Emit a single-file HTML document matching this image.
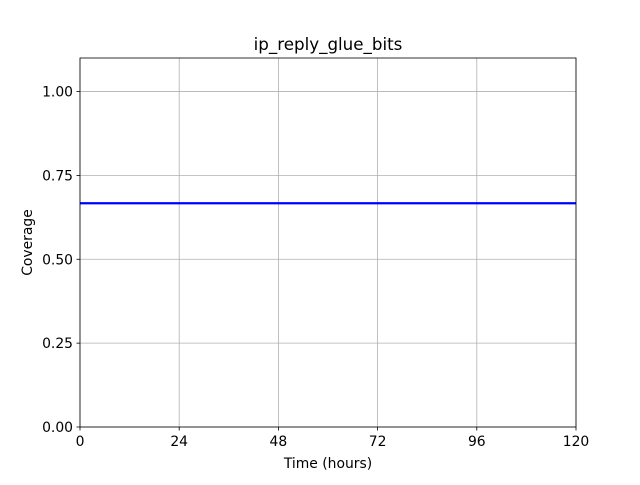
<!DOCTYPE html>
<html><head><meta charset="utf-8"><style>
body{margin:0;background:#fff;width:640px;height:480px;overflow:hidden}
text{font-family:"DejaVu Sans","Liberation Sans",sans-serif;fill:#000}
</style></head><body>
<svg id="chart" width="640" height="480" xmlns="http://www.w3.org/2000/svg"></svg>
<script>
const xTicks = [0, 24, 48, 72, 96, 120];
const yTicks = [0, 0.25, 0.5, 0.75, 1.0];
const yTickLabels = ["0.00", "0.25", "0.50", "0.75", "1.00"];
const times = [0, 120];
const coverage = [0.667, 0.667];

const L=80,R=576,T=58,B=427,xMin=0,xMax=120,yMin=0,yMax=1.1;
const sx=v=>L+(v-xMin)/(xMax-xMin)*(R-L);
const sy=v=>B-(v-yMin)/(yMax-yMin)*(B-T);
const svg=document.getElementById('chart');
const NS='http://www.w3.org/2000/svg';
function mk(tag,attrs,parent){const e=document.createElementNS(NS,tag);for(const k in attrs)e.setAttribute(k,attrs[k]);(parent||svg).appendChild(e);return e;}

const grid=mk('g',{});


xTicks.forEach(v=>{
  const l=mk('line',{x1:sx(v),x2:sx(v),y1:T,y2:B,stroke:'#b0b0b0','stroke-width':0.8},grid);
  
  
});
yTicks.forEach(v=>{
  const l=mk('line',{x1:L,x2:R,y1:sy(v),y2:sy(v),stroke:'#b0b0b0','stroke-width':0.8},grid);
  
  
});

const pts=times.map((t,i)=>sx(t)+','+sy(coverage[i])).join(' ');
const line=mk('polyline',{points:pts,fill:'none',stroke:'#0000ff','stroke-width':2.2});



const frame=mk('rect',{x:L,y:T,width:R-L,height:B-T,fill:'none',stroke:'#000','stroke-width':0.8});



xTicks.forEach(v=>{
  const t=mk('line',{x1:sx(v),x2:sx(v),y1:B,y2:B+3.5,stroke:'#000','stroke-width':0.8});
  
  
  const tx=mk('text',{x:sx(v),y:B+19,'text-anchor':'middle','font-size':13.9});
  tx.textContent=v;
  
  
});
yTicks.forEach((v,i)=>{
  const t=mk('line',{x1:L-3.5,x2:L,y1:sy(v),y2:sy(v),stroke:'#000','stroke-width':0.8});
  
  
  const tx=mk('text',{x:L-7,y:sy(v)+5,'text-anchor':'end','font-size':13.9});
  tx.textContent=yTickLabels[i];
  
  
});

const title=mk('text',{x:(L+R)/2,y:50,'text-anchor':'middle','font-size':16.7});
title.textContent='ip_reply_glue_bits';


const xl=mk('text',{x:(L+R)/2,y:468,'text-anchor':'middle','font-size':13.9});
xl.textContent='Time (hours)';


const yl=mk('text',{x:32,y:(T+B)/2,'text-anchor':'middle','font-size':13.9,transform:'rotate(-90 32 '+((T+B)/2)+')'});
yl.textContent='Coverage';


</script>
</body></html>
